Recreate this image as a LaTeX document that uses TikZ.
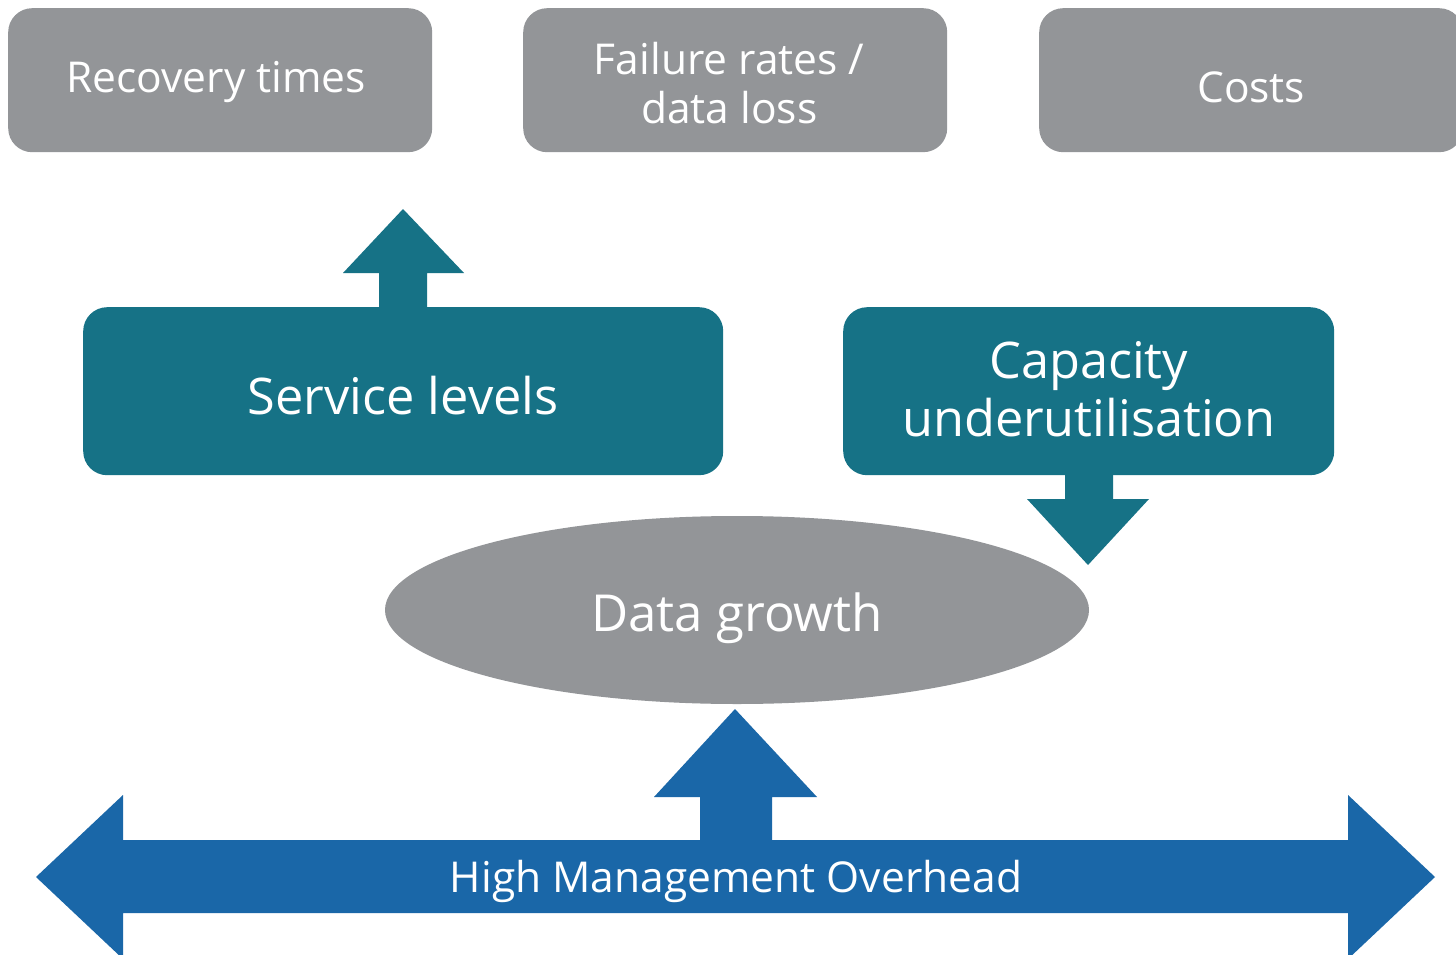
\documentclass[tikz,border=0pt]{standalone}
\usepackage{fontspec}
\setmainfont{Open Sans}
\definecolor{boxgrey}{RGB}{147,149,152}
\definecolor{teal1}{RGB}{22,114,134}
\definecolor{blue1}{RGB}{26,103,168}
\begin{document}
\begin{tikzpicture}[x=1pt,y=-1pt,
  topbox/.style={fill=boxgrey,rounded corners=24pt,minimum width=424pt,minimum height=144pt,inner sep=0pt,anchor=north west},
  midbox/.style={fill=teal1,rounded corners=24pt,minimum height=168pt,inner sep=0pt,anchor=north west},
  toptext/.style={text=white,font=\fontsize{42.5}{49}\selectfont,align=center,inner sep=0pt},
  midtext/.style={text=white,font=\fontsize{50.5}{58}\selectfont,align=center,inner sep=0pt},
  tealarrow/.style={fill=teal1},
  bluearrow/.style={fill=blue1}]
\useasboundingbox (0,0) rectangle (1456,955);
\fill[white] (0,0) rectangle (1456,955);
% top boxes
\node[topbox] (rec) at (8,8) {};
\node[topbox] (fail) at (523,8) {};
\node[topbox] (cost) at (1039,8) {};
\node[toptext] (rect) at ([xshift=-4pt,yshift=-2pt]rec.center) {Recovery times};
\node[toptext] (failt) at ([xshift=-6pt,yshift=-3pt]fail.center) {Failure rates /\\data loss};
\node[toptext] (costt) at ([yshift=-7pt]cost.center) {Costs};
% middle boxes
\node[midbox,minimum width=640pt] (serv) at (83,307) {};
\node[midbox,minimum width=491pt] (cap) at (843,307) {};
\node[midtext] (servt) at ([yshift=-4pt]serv.center) {Service levels};
\node[midtext] (capt) at ([yshift=2pt]cap.center) {Capacity\\underutilisation};
% ellipse
\fill[boxgrey] (737,610) ellipse [x radius=352, y radius=94];
\node[text=white,font=\fontsize{51}{58}\selectfont] (data) at (737,618) {Data growth};
% teal up arrow above service levels
\fill[tealarrow] (379,307) -- (379,273) -- (343,273) -- (403,209) -- (464,273) -- (427,273) -- (427,307) -- cycle;
% teal down arrow below capacity
\fill[tealarrow] (1065,475) -- (1065,499) -- (1027,499) -- (1088,565) -- (1149,499) -- (1113,499) -- (1113,475) -- cycle;
% blue up arrow
\fill[bluearrow] (700,841) -- (700,797) -- (654,797) -- (735,709) -- (817,797) -- (772,797) -- (772,841) -- cycle;
% bottom double arrow
\fill[bluearrow] (36,877) -- (123,795) -- (123,840) -- (1348,840) -- (1348,795) -- (1435,877) -- (1348,959) -- (1348,913) -- (123,913) -- (123,959) -- cycle;
\node[text=white,font=\fontsize{42.5}{48}\selectfont] (hmo) at (736,881) {High Management Overhead};
\end{tikzpicture}
\end{document}
